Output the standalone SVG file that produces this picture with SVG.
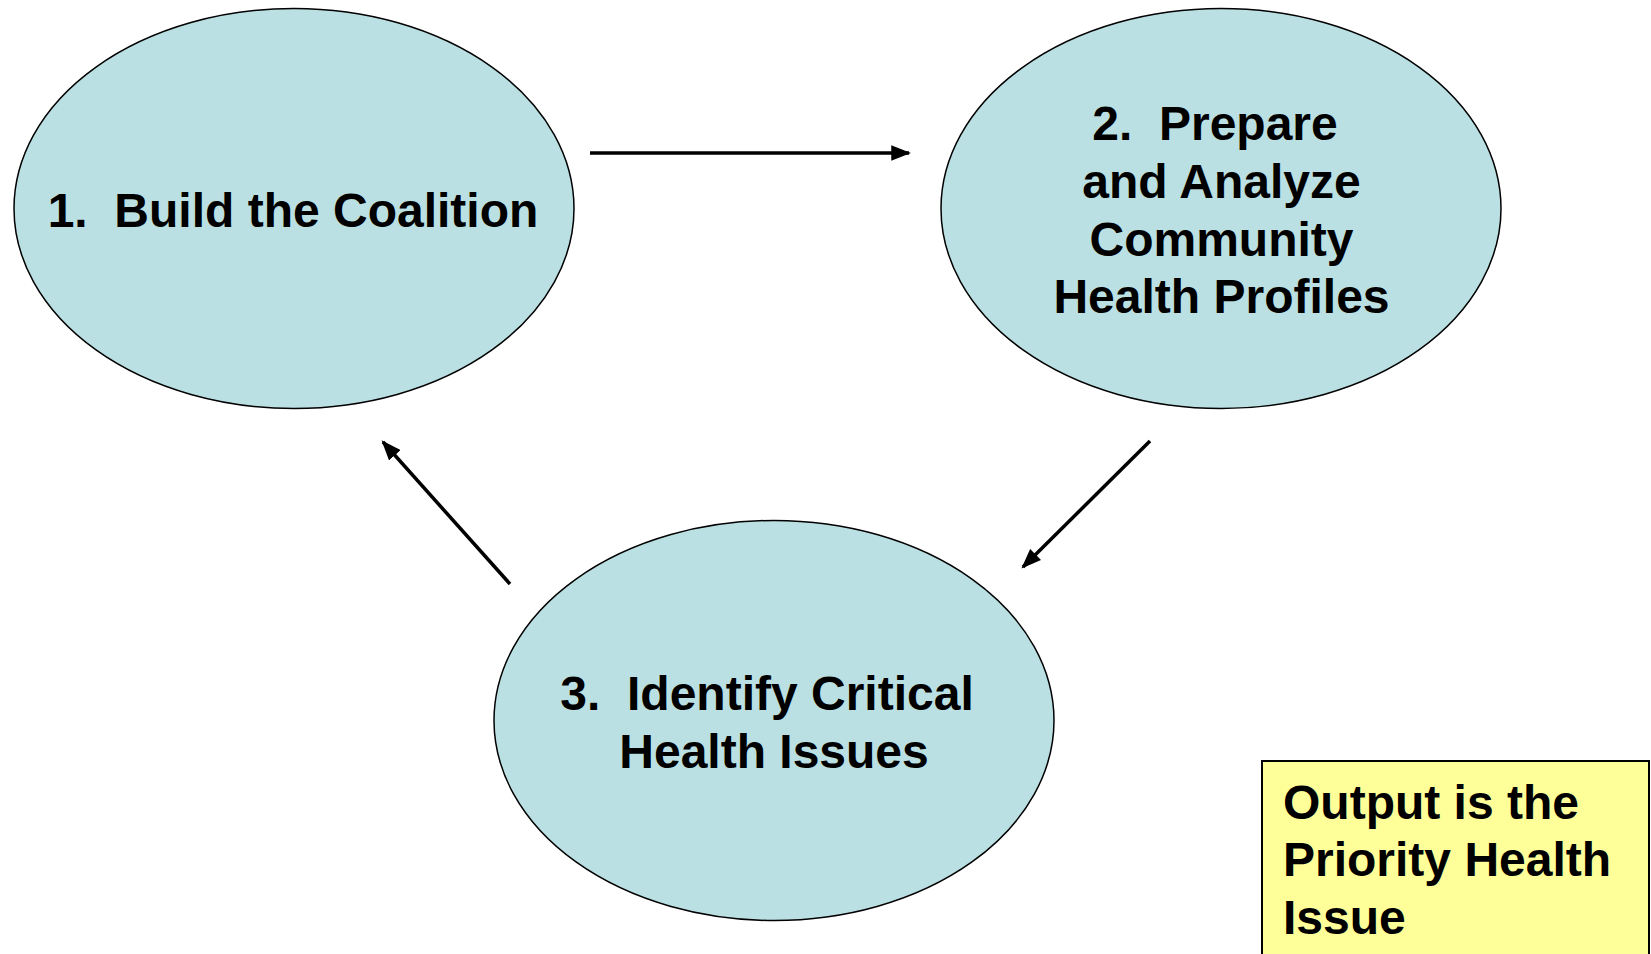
<svg xmlns="http://www.w3.org/2000/svg" width="1651" height="954" viewBox="0 0 1651 954">
<defs>
<style>
.node ellipse{fill:#BBE0E3;stroke:#000;stroke-width:1.5}
.t{font-family:"Liberation Sans",Arial,sans-serif;font-weight:bold;font-size:48px;fill:#000}
.c{stroke:#000;stroke-width:3.5;fill:none}
</style>
<marker id="ah" markerUnits="userSpaceOnUse" markerWidth="20" markerHeight="16" refX="16" refY="7" orient="auto" viewBox="0 0 18 14">
<path d="M0,0 L18,7 L0,14 Z" fill="#000"/>
</marker>
</defs>
<rect width="1651" height="954" fill="#fff"/>
<g id="connectors">
<line class="c" x1="590" y1="153" x2="909" y2="153" marker-end="url(#ah)"/>
<line class="c" x1="1150" y1="441" x2="1023" y2="567" marker-end="url(#ah)"/>
<line class="c" x1="510" y1="584" x2="383" y2="442" marker-end="url(#ah)"/>
</g>
<g id="node1" class="node">
<ellipse cx="294" cy="208.5" rx="280" ry="200"/>
<text class="t" x="293" y="226.5" text-anchor="middle" xml:space="preserve">1.  Build the Coalition</text>
</g>
<g id="node2" class="node">
<ellipse cx="1221" cy="208.5" rx="280" ry="200"/>
<text class="t" text-anchor="middle" xml:space="preserve"><tspan x="1215" y="139.5">2.  Prepare</tspan><tspan x="1221.5" y="197.5">and Analyze</tspan><tspan x="1221.5" y="255.5">Community</tspan><tspan x="1221.5" y="313">Health Profiles</tspan></text>
</g>
<g id="node3" class="node">
<ellipse cx="774" cy="720.5" rx="280" ry="200"/>
<text class="t" text-anchor="middle" xml:space="preserve"><tspan x="767" y="710">3.  Identify Critical</tspan><tspan x="774" y="767.5">Health Issues</tspan></text>
</g>
<g id="output">
<rect x="1262" y="761" width="387" height="220" fill="#FFFF99" stroke="#000" stroke-width="2"/>
<text class="t"><tspan x="1283" y="818.5">Output is the</tspan><tspan x="1283" y="876">Priority Health</tspan><tspan x="1283" y="933.5">Issue</tspan></text>
</g>
</svg>
